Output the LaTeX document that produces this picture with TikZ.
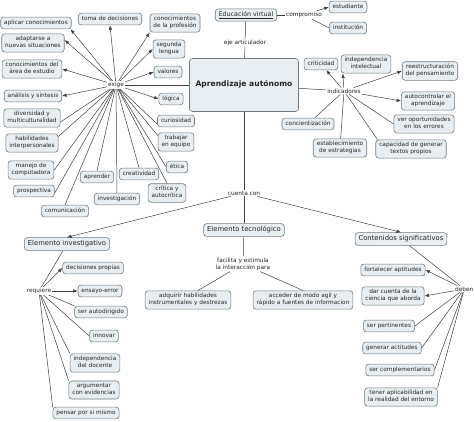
\documentclass[tikz,border=0pt]{standalone}
\usepackage{fontspec}
\setmainfont{DejaVu Sans}
\usetikzlibrary{arrows.meta}
\definecolor{boxfill}{HTML}{E8EEF1}
\definecolor{boxdraw}{HTML}{6E7C82}
\definecolor{linec}{HTML}{404040}
\definecolor{txt}{HTML}{262626}
\begin{document}
\begin{tikzpicture}[x=1pt,y=-1pt,
  concept/.style={draw=boxdraw, fill=boxfill, rounded corners=3pt, line width=0.6pt,
    font=\fontsize{5.8}{7.2}\selectfont, text=txt, align=center,
    inner xsep=3.5pt, inner ysep=2.3pt,
    execute at begin node=\strut, execute at end node=\strut},
  bigconcept/.style={concept, font=\fontsize{6.8}{8.2}\selectfont},
  mainconcept/.style={concept, font=\fontsize{7.6}{9}\selectfont\bfseries,
    minimum width=109pt, minimum height=53pt},
  link/.style={font=\fontsize{5.8}{7.2}\selectfont, text=txt, inner sep=1pt, align=center},
  conn/.style={draw=linec, line width=0.5pt},
  arr/.style={conn, -{Latex[length=4.5pt,width=3.5pt]}},
]
\useasboundingbox (0,0) rectangle (474,421);
\fill[white] (0,0) rectangle (474,421);

% ---- exige cluster
\node[concept] (ac) at (36,23) {aplicar conocimientos};
\node[concept] (td) at (110,19) {toma de decisiones};
\node[concept] (cp) at (175,23) {conocimientos\\de la profesión};
\node[concept] (ad) at (33,43) {adaptarse a\\nuevas situaciones};
\node[concept] (sl) at (169,49) {segunda\\lengua};
\node[concept] (ca) at (32,69) {conocimientos del\\área de estudio};
\node[concept] (va) at (168,72) {valores};
\node[concept] (an) at (33,96) {análisis y síntesis};
\node[concept] (lo) at (171,99) {lógica};
\node[concept] (di) at (32,118) {diversidad y\\multiculturalidad};
\node[concept] (cu) at (176,121) {curiosidad};
\node[concept] (hi) at (32,143) {habilidades\\interpersonales};
\node[concept] (tr) at (176,142) {trabajar\\en equipo};
\node[concept] (ma) at (31,170) {manejo de\\computadora};
\node[concept] (et) at (177,167) {ética};
\node[concept] (ap) at (97,177) {aprender};
\node[concept] (cr) at (139,174) {creatividad};
\node[concept] (pr) at (34,191) {prospectiva};
\node[concept] (inv) at (117,199) {investigación};
\node[concept] (ct) at (167,193) {crítica y\\autocrítica};
\node[concept] (co) at (65,211) {comunicación};
\node[link] (ex) at (116,85) {exige};

% ---- top
\node[concept, font=\fontsize{6.3}{7.6}\selectfont] (ev) at (246,15) {\underline{Educación virtual}};
\node[link] (comp) at (304,15) {compromiso};
\node[concept] (es) at (348,7) {estudiante};
\node[concept] (it) at (348,28) {institución};
\node[link] (eja) at (245,43) {eje articulador};
\node[mainconcept] (aa) at (244,85) {Aprendizaje autónomo};

% ---- indicadores
\node[link] (ind) at (344,91) {indicadores};
\node[concept] (cri) at (321,64) {criticidad};
\node[concept] (ii) at (366,64) {independencia\\intelectual};
\node[concept] (re) at (430,71) {reestructuración\\del pensamiento};
\node[concept] (au) at (428,101) {autocontrolar el\\aprendizaje};
\node[concept] (vo) at (424,124) {ver oportunidades\\en los errores};
\node[concept] (con) at (308,124) {concientización};
\node[concept] (est) at (340,148) {establecimiento\\de estrategias};
\node[concept] (cg) at (411,149) {capacidad de generar\\textos propios};

% ---- lower part
\node[link] (cc) at (244,193) {cuenta con};
\node[bigconcept] (etc) at (244,230) {Elemento tecnológico};
\node[link] (fe) at (243,264) {facilita y estimula\\la interacción para};
\node[concept] (ah) at (188,300) {adquirir habilidades\\instrumentales y destrezas};
\node[concept] (acc) at (303,300) {acceder de modo agil y\\rápido a fuentes de informacion};

\node[bigconcept] (ei) at (67,244) {Elemento investigativo};
\node[link] (req) at (39,291) {requiere};
\node[concept] (dp) at (93,268) {decisiones propias};
\node[concept] (ee) at (100,291) {ensayo-error};
\node[concept] (sa) at (101,312) {ser autodirigido};
\node[concept] (inn) at (104,336) {innovar};
\node[concept] (id) at (95,363) {independencia\\del docente};
\node[concept] (ar) at (94,390) {argumentar\\con evidencias};
\node[concept] (pm) at (86,413) {pensar por si mismo};

\node[bigconcept] (cs) at (401,239) {Contenidos significativos};
\node[link, anchor=west] (deb) at (454,289) {deben};
\node[concept] (fa) at (393,270) {fortalecer aptitudes};
\node[concept] (dc) at (393,296) {dar cuenta de la\\ciencia que aborda};
\node[concept] (sp) at (389,326) {ser pertinentes};
\node[concept] (ga) at (392,348) {generar actitudes};
\node[concept] (sc) at (400,370) {ser complementarios};
\node[concept] (ta) at (401,397) {tener aplicabilidad en\\la realidad del entorno};

% ---- connectors: exige
\draw[conn] (aa) -- (ex);
\draw[arr] (ex) -- ([xshift=-1pt]ac.south east);
\draw[arr] (ex) -- (td.south);
\draw[arr] (ex) -- (cp.south west);
\draw[arr] (ex) -- ([yshift=3pt]ad.east);
\draw[arr] (ex) -- (sl.west);
\draw[arr] (ex) -- (ca.east);
\draw[arr] (ex) -- (va.west);
\draw[arr] (ex) -- (an.east);
\draw[arr] (ex) -- (lo.west);
\draw[conn] (ex) -- ([yshift=-4pt]di.east);
\draw[conn] (ex) -- ([yshift=-3pt]cu.west);
\draw[conn] (ex) -- ([yshift=-3pt]hi.north east);
\draw[conn] (ex) -- ([yshift=-3pt]tr.north west);
\draw[conn] (ex) -- (ma.east);
\draw[conn] (ex) -- (et.west);
\draw[conn] (ex) -- (ap.north);
\draw[conn] (ex) -- (cr.north);
\draw[conn] (ex) -- ([yshift=-2pt]pr.east);
\draw[conn] (ex) -- (inv.north);
\draw[conn] (ex) -- (ct.north);
\draw[conn] (ex) -- (co.north);

% ---- top
\draw[conn] (aa) -- (eja);
\draw[conn] (eja) -- (ev);
\draw[conn] (ev) -- (comp);
\draw[arr] (comp) -- (es.west);
\draw[conn] (comp) -- (it.west);

% ---- indicadores
\draw[conn] (aa) -- (ind);
\draw[arr] (ind) -- (cri);
\draw[arr] (ind) -- ([xshift=2pt]ii.south west);
\draw[arr] (ind) -- (re.west);
\draw[arr] (ind) -- (au.west);
\draw[conn] (ind) -- (vo.west);
\draw[conn] (ind) -- ([xshift=2pt]cg.north west);
\draw[conn] (ind) -- (est);
\draw[conn] (ind) -- (con);

% ---- cuenta con
\draw[conn] (aa) -- (cc);
\draw[conn] (cc) -- (etc);
\draw[arr] (cc) -- (ei.north);
\draw[arr] (cc) -- (cs.north);
\draw[conn] (etc) -- (fe);
\draw[conn] (fe) -- ([xshift=10pt]ah.north);
\draw[conn] (fe) -- (acc.north);

% ---- requiere
\draw[conn] (ei) -- (req);
\draw[arr] (req) -- (dp.west);
\draw[arr] (req) -- (ee.west);
\draw[conn] (req) -- (sa.north west);
\draw[conn] (req) -- (inn.west);
\draw[conn] (req) -- (id.north west);
\draw[conn] (req) -- (ar.north west);
\draw[conn] (req) -- (pm.north west);

% ---- deben
\draw[conn] (cs) -- (deb);
\draw[arr] (deb) -- (fa.east);
\draw[arr] (deb) -- (dc.east);
\draw[conn] (deb) -- (sp.east);
\draw[conn] (deb) -- (ga.east);
\draw[conn] (deb) -- (sc.east);
\draw[conn] (deb) -- (ta.north east);
\end{tikzpicture}
\end{document}
